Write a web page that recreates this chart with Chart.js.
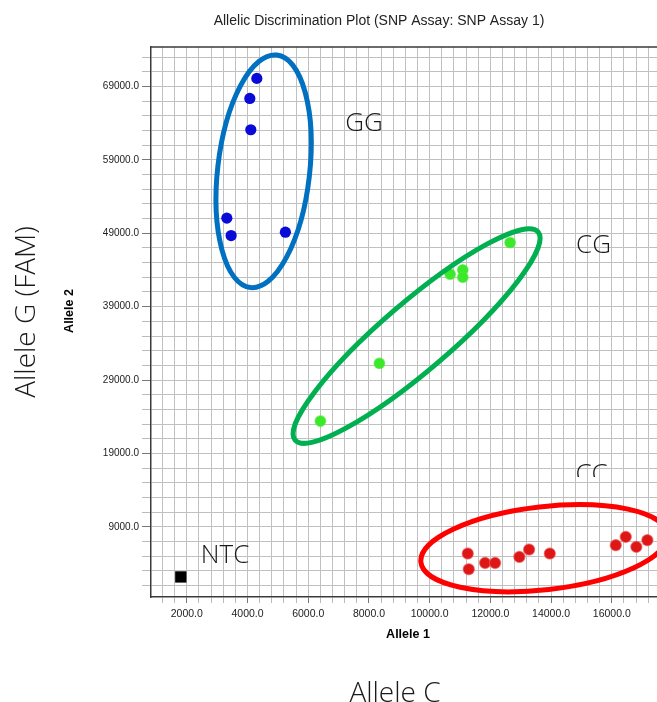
<!DOCTYPE html>
<html>
<head>
<meta charset="utf-8">
<title>Allelic Discrimination Plot</title>
<script src="https://cdn.jsdelivr.net/npm/chart.js@4.4.1/dist/chart.umd.min.js"></script>
<style>
  html, body { margin: 0; padding: 0; background: #ffffff; overflow: hidden; }
  #wrap { position: relative; width: 657px; height: 702px; }
</style>
</head>
<body>
<div id="wrap"><canvas id="plot" width="657" height="702"></canvas></div>
<script>
// Allele 1 (x) and Allele 2 (y) signal for each well, grouped by genotype call
const ggAllele1 = [4306, 4075, 4108, 3318, 3460, 5248];
const ggAllele2 = [70094, 67366, 63098, 51057, 48684, 49147];

const cgAllele1 = [12650, 10674, 11092, 11092, 8345, 6401];
const cgAllele2 = [47729, 43420, 44006, 43011, 31283, 23414];

const ccAllele1 = [11256, 11289, 11826, 12156, 12956, 13276, 13958, 16132, 16461, 16810, 17173];
const ccAllele2 = [5373, 3232, 4091, 4091, 4909, 5918, 5373, 6504, 7636, 6273, 7186];

const ntcAllele1 = [1802];
const ntcAllele2 = [2182];

// labelled ticks on each axis
const xTickLabels = [2000, 4000, 6000, 8000, 10000, 12000, 14000, 16000];
const yTickLabels = [9000, 19000, 29000, 39000, 49000, 59000, 69000];

// axis ranges and grid spacing
const xRange = { min: 820, max: 17490, gridStep: 400, gridStart: 1200 };
const yRange = { min: -550, max: 74370, gridStep: 2000, gridStart: 1000 };

// hand-drawn rings around each genotype cluster (centre in data units, radii in px)
const clusterRings = [
  { x: 4530,  y: 57440, rx: 46,  ry: 117,  tilt: 6.5,   color: '#0070c0' },
  { x: 9570,  y: 35000, rx: 160, ry: 34,   tilt: -40.6, color: '#00b050' },
  { x: 13770, y: 6095,  rx: 124, ry: 41.5, tilt: -6.5,  color: '#ff0000' }
];

// genotype callouts (anchor = text centre / baseline in data units)
const callouts = [
  { text: 'GG',  x: 7841,  y: 62962 },
  { text: 'CG',  x: 15401, y: 46324 },
  { text: 'CC',  x: 15335, y: 15096, clipAbove: 15780 },
  { text: 'NTC', x: 3262,  y: 4091 }
];

const toPoints = (xs, ys) => xs.map((x, i) => ({ x: x, y: ys[i] }));

function gridTicks(r) {
  const out = [];
  for (let v = r.gridStart; v < r.max; v += r.gridStep) out.push({ value: v });
  return out;
}

const LIGHT_FONT = '"Open Sans", "Noto Sans", sans-serif';
const PLOT_FONT = '"Liberation Sans", Arial, sans-serif';

const decorations = {
  id: 'decorations',
  afterDatasetsDraw(chart) {
    const ctx = chart.ctx;
    const xs = chart.scales.x, ys = chart.scales.y;
    const area = chart.chartArea;

    // frame along the top of the plot area
    ctx.save();
    ctx.strokeStyle = '#3a3a3a';
    ctx.lineWidth = 1.5;
    ctx.beginPath();
    ctx.moveTo(area.left, area.top);
    ctx.lineTo(area.right, area.top);
    ctx.stroke();
    ctx.restore();

    // cluster rings
    clusterRings.forEach(r => {
      ctx.save();
      ctx.strokeStyle = r.color;
      ctx.lineWidth = 5;
      ctx.beginPath();
      ctx.ellipse(xs.getPixelForValue(r.x), ys.getPixelForValue(r.y), r.rx, r.ry,
                  r.tilt * Math.PI / 180, 0, Math.PI * 2);
      ctx.stroke();
      ctx.restore();
    });

    // genotype callouts
    callouts.forEach(c => {
      ctx.save();
      const px = xs.getPixelForValue(c.x), py = ys.getPixelForValue(c.y);
      if (c.clipAbove !== undefined) {
        const cy = ys.getPixelForValue(c.clipAbove);
        ctx.beginPath();
        ctx.rect(px - 60, cy - 60, 120, 60);
        ctx.clip();
      }
      ctx.font = '300 26px ' + LIGHT_FONT;
      ctx.fillStyle = '#1a1a1a';
      ctx.textAlign = 'center';
      ctx.textBaseline = 'alphabetic';
      ctx.fillText(c.text, px, py);
      ctx.restore();
    });
  },
  afterDraw(chart) {
    const ctx = chart.ctx;
    const area = chart.chartArea;
    ctx.save();
    ctx.fillStyle = '#222222';
    ctx.textAlign = 'center';
    ctx.textBaseline = 'middle';

    // chart title
    ctx.font = '14px ' + PLOT_FONT;
    ctx.fillText('Allelic Discrimination Plot (SNP Assay: SNP Assay 1)', 379, 21);

    // axis titles
    ctx.fillStyle = '#000000';
    ctx.font = 'bold 12.5px ' + PLOT_FONT;
    ctx.fillText('Allele 1', 408, area.bottom + 38);
    ctx.save();
    ctx.translate(70, 311);
    ctx.rotate(-Math.PI / 2);
    ctx.fillText('Allele 2', 0, 0);
    ctx.restore();

    // allele captions
    ctx.fillStyle = '#1a1a1a';
    ctx.font = '300 28px ' + LIGHT_FONT;
    ctx.textBaseline = 'alphabetic';
    ctx.fillText('Allele C', 395, 702);
    ctx.save();
    ctx.translate(35, 312);
    ctx.rotate(-Math.PI / 2);
    ctx.fillText('Allele G (FAM)', 0, 0);
    ctx.restore();

    ctx.restore();
  }
};

const gridColor = '#c0c0c0';

new Chart(document.getElementById('plot').getContext('2d'), {
  type: 'scatter',
  data: {
    datasets: [
      { label: 'GG', data: toPoints(ggAllele1, ggAllele2),
        backgroundColor: '#0a0ad8', borderColor: '#0a0ad8', borderWidth: 0,
        pointRadius: 5.6, pointStyle: 'circle' },
      { label: 'CG', data: toPoints(cgAllele1, cgAllele2),
        backgroundColor: '#3be82a', borderColor: 'rgba(90,235,70,0.55)', borderWidth: 1.2,
        pointRadius: 5.4, pointStyle: 'circle' },
      { label: 'CC', data: toPoints(ccAllele1, ccAllele2),
        backgroundColor: '#de1616', borderColor: 'rgba(235,90,90,0.6)', borderWidth: 1.2,
        pointRadius: 5.6, pointStyle: 'circle' },
      { label: 'NTC', data: toPoints(ntcAllele1, ntcAllele2),
        backgroundColor: '#000000', borderColor: '#000000', borderWidth: 0,
        pointRadius: 8, pointStyle: 'rect' }
    ]
  },
  options: {
    responsive: false,
    animation: false,
    devicePixelRatio: 1,
    layout: { autoPadding: false, padding: { top: 47, right: 0, bottom: 0, left: 0 } },
    plugins: { legend: { display: false }, tooltip: { enabled: false }, title: { display: false } },
    scales: {
      x: {
        type: 'linear',
        min: xRange.min,
        max: xRange.max,
        afterBuildTicks(scale) { scale.ticks = gridTicks(xRange); },
        afterFit(scale) { scale.height = 105; },
        grid: {
          color: gridColor,
          lineWidth: 1,
          tickLength: 6,
          tickColor: ctx => xTickLabels.includes(ctx.tick && ctx.tick.value) ? '#777777' : '#bbbbbb'
        },
        border: { display: true, color: '#3a3a3a', width: 1.5 },
        ticks: {
          autoSkip: false,
          maxRotation: 0,
          padding: 5,
          color: '#222222',
          font: { family: PLOT_FONT, size: 10.5 },
          callback: v => xTickLabels.includes(v) ? v.toFixed(1) : ''
        }
      },
      y: {
        type: 'linear',
        min: yRange.min,
        max: yRange.max,
        afterBuildTicks(scale) { scale.ticks = gridTicks(yRange); },
        afterFit(scale) { scale.width = 151; },
        grid: {
          color: gridColor,
          lineWidth: 1,
          tickLength: 9,
          tickColor: ctx => yTickLabels.includes(ctx.tick && ctx.tick.value) ? '#777777' : '#bbbbbb'
        },
        border: { display: true, color: '#3a3a3a', width: 1.5 },
        ticks: {
          autoSkip: false,
          padding: 3,
          color: '#222222',
          font: { family: PLOT_FONT, size: 10 },
          callback: v => yTickLabels.includes(v) ? v.toFixed(1) : ''
        }
      }
    }
  },
  plugins: [decorations]
});
</script>
</body>
</html>
